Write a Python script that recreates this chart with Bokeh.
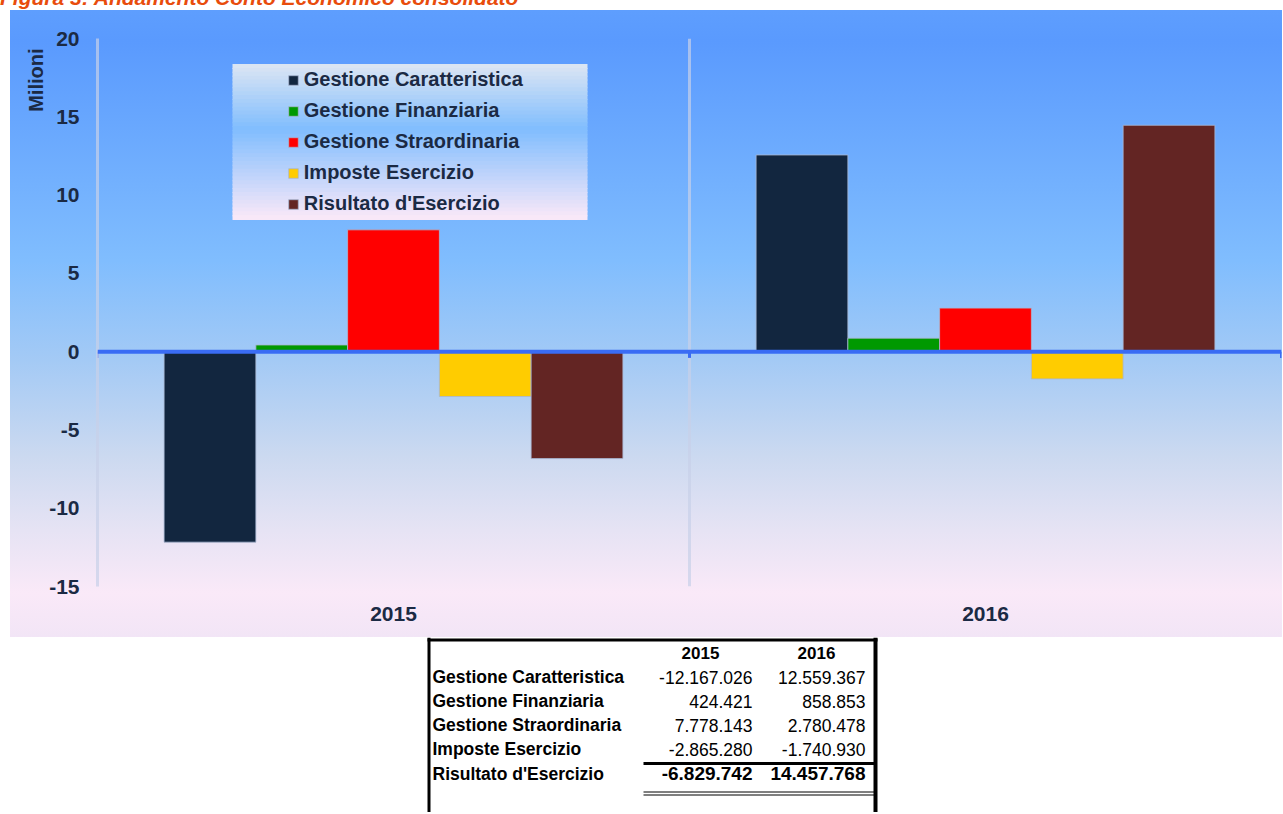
import numpy as np
from bokeh.plotting import figure
from bokeh.models import (ColumnDataSource, FactorRange, Range1d, Span, BoxAnnotation,
                          Legend, LegendItem, FixedTicker, Title, Div)
from bokeh.transform import dodge
from bokeh.layouts import column
from bokeh.embed import file_html
from bokeh.resources import INLINE
from bokeh.core.properties import value

# ---------------- data ----------------
title_text = "Figura 3: Andamento Conto Economico consolidato"
years = ["2015", "2016"]
series = ["Gestione Caratteristica", "Gestione Finanziaria", "Gestione Straordinaria",
          "Imposte Esercizio", "Risultato d'Esercizio"]
vals_2015 = [-12167026, 424421, 7778143, -2865280, -6829742]
vals_2016 = [12559367, 858853, 2780478, -1740930, 14457768]
colors = ["#12263f", "#009900", "#ff0000", "#ffcc00", "#632523"]
y_label = "Milioni"
y_ticks = [-15, -10, -5, 0, 5, 10, 15, 20]
y_tick_labels = ["-15", "-10", "-5", "0", "5", "10", "15", "20"]

# ---------------- style ----------------
FONT = "Liberation Sans"
TXT = "#1b2a44"
W = 1282
H_TITLE = 10
H_CHART = 627
H_TAB = 175
BORDER_L, BORDER_R, BORDER_T, BORDER_B = 97, 1, 28, 51

# ---------------- title (only the lower part is visible, as in the original) ----------------
title = Div(text=f'<div style="position:relative; top:-12px; white-space:nowrap; '
                 f'font-family:{FONT}; font-size:21px; font-weight:bold; font-style:italic; '
                 f'color:#e84c0c; line-height:20px;">{title_text}</div>',
            width=W, height=H_TITLE, margin=0, styles={"overflow": "hidden"})

p = figure(x_range=FactorRange(factors=years, range_padding=0),
           y_range=Range1d(min(y_ticks), max(y_ticks)),
           width=W, height=H_CHART, output_backend="svg", toolbar_location=None,
           min_border_left=BORDER_L, min_border_right=BORDER_R,
           min_border_top=BORDER_T, min_border_bottom=BORDER_B)
p.background_fill_alpha = 0
p.border_fill_alpha = 0
p.outline_line_color = None
p.styles = {"background-image": "linear-gradient(to bottom, #5e9efe 0%, #5a9afe 5%, #80bdfe 40%, "
                                "#a4caf5 56%, #cbd9f0 71%, #e6e3f4 83%, #fae9f8 93%, #f2e5f6 100%)",
            "background-repeat": "no-repeat",
            "background-position": "10px 0px",
            "background-size": "calc(100% - 10px) 100%"}
p.grid.visible = False

# gradient panel behind the legend (decoration, screen units relative to the frame)
lg_left, lg_right, lg_top, lg_bottom = 135, 490, 522, 367
stops = [(0.0, (0xdd, 0xe6, 0xf3)), (0.42, (0x80, 0xbd, 0xfe)), (1.0, (0xfb, 0xe9, 0xf8))]
def grad(t):
    for (t0, c0), (t1, c1) in zip(stops[:-1], stops[1:]):
        if t <= t1:
            f = (t - t0) / (t1 - t0)
            return "#%02x%02x%02x" % tuple(int(round(a + (b - a) * f)) for a, b in zip(c0, c1))
    return "#%02x%02x%02x" % stops[-1][1]
n_bands = 40
band = (lg_top - lg_bottom) / n_bands
for i in range(n_bands):
    top = lg_top - i * band
    p.add_layout(BoxAnnotation(left=lg_left, right=lg_right, top=top + 0.5, bottom=top - band - 0.5,
                               left_units="screen", right_units="screen",
                               top_units="screen", bottom_units="screen",
                               fill_color=grad((i + 0.5) / n_bands), fill_alpha=1,
                               line_alpha=0, level="underlay"))

# category separators
for i in range(1, len(years)):
    p.add_layout(Span(location=i, dimension="height", line_color="#c8d0e8",
                      line_alpha=0.7, line_width=3, level="underlay"))

bar_w = 0.155
renderers = []
for i, (name, col) in enumerate(zip(series, colors)):
    src = ColumnDataSource(dict(year=years, value=[vals_2015[i] / 1e6, vals_2016[i] / 1e6]))
    off = (i - (len(series) - 1) / 2) * bar_w
    r = p.vbar(x=dodge("year", off, range=p.x_range), top="value", bottom=0, width=bar_w,
               source=src, fill_color=col, line_color="#a9b6d2", line_alpha=0.8, line_width=1)
    renderers.append(r)

# zero line with small tick marks at the category boundaries
AXIS_BLUE = "#3a6cf4"
p.add_layout(Span(location=0, dimension="width", line_color=AXIS_BLUE, line_width=4))
bounds = list(range(len(years) + 1))
p.segment(x0=bounds, y0=[0] * len(bounds), x1=bounds, y1=[-0.4] * len(bounds),
          line_color=AXIS_BLUE, line_width=3)

# axes
p.yaxis.ticker = FixedTicker(ticks=y_ticks)
p.yaxis.major_label_overrides = {t: s for t, s in zip(y_ticks, y_tick_labels)}
p.yaxis.major_tick_line_color = None
p.yaxis.minor_tick_line_color = None
p.yaxis.axis_line_color = "#c8d0e8"
p.yaxis.axis_line_alpha = 0.7
p.yaxis.axis_line_width = 3
p.yaxis.major_label_standoff = 12
p.yaxis.major_label_text_font = FONT
p.yaxis.major_label_text_font_size = "21px"
p.yaxis.major_label_text_font_style = "bold"
p.yaxis.major_label_text_color = TXT

p.xaxis.axis_line_color = None
p.xaxis.major_tick_line_color = None
p.xaxis.minor_tick_line_color = None
p.xaxis.major_label_standoff = 14
p.xaxis.major_label_text_font = FONT
p.xaxis.major_label_text_font_size = "21px"
p.xaxis.major_label_text_font_style = "bold"
p.xaxis.major_label_text_color = TXT

p.add_layout(Title(text=y_label, align="right", offset=10, standoff=0,
                   text_font=FONT, text_font_size="20px", text_font_style="bold",
                   text_color=TXT), "left")

legend = Legend(items=[LegendItem(label=s, renderers=[r]) for s, r in zip(series, renderers)],
                location=(189.8, 371), padding=4, spacing=8, label_height=23,
                glyph_width=12, glyph_height=12, label_standoff=5,
                label_text_font=FONT, label_text_font_size="20px",
                label_text_font_style="bold", label_text_color=TXT,
                background_fill_alpha=0, border_line_color=None)
p.add_layout(legend)

# ---------------- table ----------------
t = figure(width=W, height=H_TAB, x_range=Range1d(BORDER_L, W - BORDER_R), y_range=Range1d(H_TAB, 0),
           output_backend="svg", toolbar_location=None,
           min_border_left=BORDER_L, min_border_right=BORDER_R, min_border_top=0, min_border_bottom=0,
           x_axis_type=None, y_axis_type=None)
t.grid.visible = False
t.outline_line_color = None
t.background_fill_color = "white"
t.border_fill_color = "white"

def fmt(v):
    return f"{v:,}".replace(",", ".")

tab_left, tab_right = 428.5, 875
col_right = [752, 865]
col_center = [700, 816]
row_y0, row_dy = 39.7, 24.0
n_rows = len(series)
row_ys = [row_y0 + k * row_dy for k in range(n_rows - 1)] + [136]

t.segment(x0=[tab_left, tab_left - 1.5, tab_right], y0=[0, 2.5, 0],
          x1=[tab_left, tab_right + 2, tab_right], y1=[H_TAB, 2.5, H_TAB],
          line_color="black", line_width=[3, 3, 4])
t.segment(x0=[643], y0=[126], x1=[tab_right], y1=[126], line_color="black", line_width=3)
t.segment(x0=[643, 643], y0=[154.5, 157.5], x1=[tab_right, tab_right], y1=[154.5, 157.5],
          line_color="black", line_width=1)

t.text(x=col_center, y=[15, 15], text=years, text_align="center", text_baseline="middle",
       text_font=value(FONT), text_font_size="17px", text_font_style="bold", text_color="black")
t.text(x=[432] * n_rows, y=row_ys, text=series, text_align="left", text_baseline="middle",
       text_font=value(FONT), text_font_size="17.5px", text_font_style="bold", text_color="black")
for j, vals in enumerate([vals_2015, vals_2016]):
    t.text(x=[col_right[j]] * (n_rows - 1), y=row_ys[:-1], text=[fmt(v) for v in vals[:-1]],
           text_align="right", text_baseline="middle", text_font=value(FONT),
           text_font_size="17.5px", text_color="black")
    t.text(x=[col_right[j]], y=[row_ys[-1]], text=[fmt(vals[-1])],
           text_align="right", text_baseline="middle", text_font=value(FONT),
           text_font_size="19px", text_font_style="bold", text_color="black")

layout = column(title, p, t, spacing=0)
open("out.html", "w").write(file_html(layout, INLINE))
